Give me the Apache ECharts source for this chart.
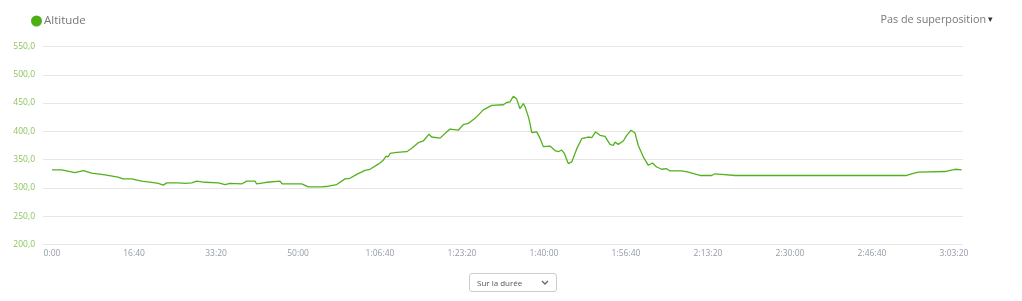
<!DOCTYPE html>
<html>
<head>
<meta charset="utf-8">
<script src="https://cdn.jsdelivr.net/npm/echarts@6/dist/echarts.min.js"></script>
<style>
  html, body { margin: 0; padding: 0; background: #fff; }
  #chart { width: 1022px; height: 301px; }
  #sel {
    position: absolute; left: 469px; top: 273px; width: 88px; height: 19px;
    font-family: 'Open Sans', sans-serif; font-size: 8px; color: #555;
    border: 1px solid #ccc; border-radius: 3px; padding: 0 0 0 7px;
    -webkit-appearance: none; appearance: none;
    background: #fff url("data:image/svg+xml;utf8,<svg xmlns='http://www.w3.org/2000/svg' width='8' height='5'><path d='M1 1 L4 4 L7 1' fill='none' stroke='%23666' stroke-width='1.3'/></svg>") no-repeat right 7px center;
  }
</style>
</head>
<body>
<div id="chart"></div>
<select id="sel"><option>Sur la durée</option></select>
<script>
// elapsed time (s)
const times = [0,118,280,382,484,646,805,866,972,1094,1216,1296,1357,1399,1540,1622,1704,1765,1866,2028,2110,2171,2313,2374,2476,2496,2618,2780,2809,3045,3126,3289,3370,3390,3472,3573,3634,3716,3817,3878,3979,4040,4073,4101,4122,4204,4326,4387,4467,4528,4598,4630,4732,4813,4854,4955,5016,5077,5159,5179,5260,5362,5504,5545,5585,5626,5667,5707,5748,5768,5809,5829,5850,5911,5951,5992,6073,6134,6175,6216,6248,6296,6338,6399,6460,6540,6582,6630,6683,6744,6805,6845,6866,6906,6967,7009,7061,7110,7150,7211,7272,7321,7374,7435,7496,7537,7679,7760,7902,8045,8085,8167,8329,10423,10484,10565,10890,11012,11094];
// altitude (m)
const altitude = [332,332,327,330.5,326,323,319,316,316,312,310,308,305,309,309,308,309,312,310,309,306,308,307,312,312,307,310,312,307,307,302,302,303,301,306,316,317,324,331,333,342,349,356,355,361,363,364,370,380,383,395,390,388,399,404,402,412,414,423,420,438,446,447,451,452,462,457,440,449,444,426,414,398,399,388,373,374,366,364,367,361,343,346,369,387,390,389,399,393,391,377,375,381,377,383,393,402,397,375,355,340,344,337,333,334,330,330,328,322,322,325,324,322,322,325,328,329,333,332];
const xTicks = [0,1000,2000,3000,4000,5000,6000,7000,8000,9000,10000,11000];
const seriesName = 'Altitude';

function fmtTime(s) {
  const h = Math.floor(s / 3600), m = Math.floor((s % 3600) / 60), sec = Math.round(s % 60);
  const p = n => String(n).padStart(2, '0');
  if (s === 0) return '0:00';
  return h > 0 ? h + ':' + p(m) + ':' + p(sec) : m + ':' + p(sec);
}

const chart = echarts.init(document.getElementById('chart'));
chart.setOption({
  animation: false,
  textStyle: { fontFamily: 'Open Sans' },
  title: {
    text: 'Pas de superposition{t|▾}', right: 29, top: 14, padding: 0,
    textStyle: {
      fontSize: 10.8, fontWeight: 'normal', color: '#777', fontFamily: 'Open Sans',
      rich: { t: { fontSize: 9, color: '#333', padding: [0, 0, 0, 2] } }
    }
  },
  legend: {
    left: 31, top: 15, padding: 0, icon: 'circle', itemWidth: 11, itemHeight: 11, itemGap: 4,
    textStyle: { fontSize: 11.5, color: '#777', fontFamily: 'Open Sans', padding: [0,0,0,-3] },
    data: [seriesName]
  },
  grid: { left: 43, right: 59, top: 46.5, bottom: 56.5, containLabel: false },
  xAxis: {
    type: 'value', min: -110, max: 11110,
    axisLine: { show: false }, axisTick: { show: false }, splitLine: { show: false },
    axisLabel: {
      customValues: xTicks, formatter: v => fmtTime(v),
      fontSize: 8.5, color: '#939aa8', margin: 5, fontFamily: 'Open Sans'
    }
  },
  yAxis: {
    type: 'value', min: 200, max: 550, interval: 50,
    axisLine: { show: false }, axisTick: { show: false },
    splitLine: { lineStyle: { color: '#e6e6e6', width: 1 } },
    axisLabel: {
      formatter: v => v.toFixed(1).replace('.', ','),
      fontSize: 8.5, color: '#8cc45e', margin: 8, fontFamily: 'Open Sans'
    }
  },
  series: [{
    name: seriesName, type: 'line', showSymbol: false,
    data: times.map((t, i) => [t, altitude[i]]),
    lineStyle: { color: '#52b11c', width: 1.3 },
    itemStyle: { color: '#4caf15' }
  }]
});
</script>
</body>
</html>
